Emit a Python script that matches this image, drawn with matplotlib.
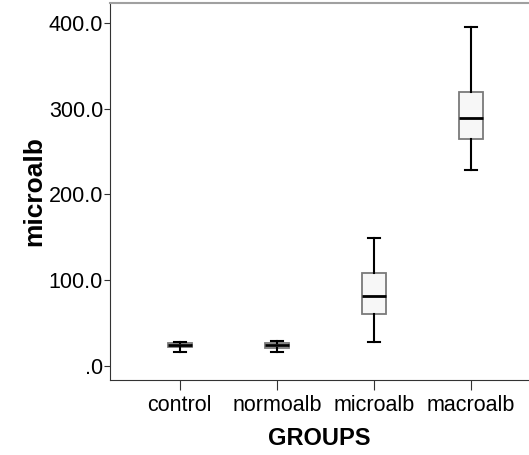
import matplotlib.pyplot as plt

groups = ['control', 'normoalb', 'microalb', 'macroalb']
whislo = [16, 16, 28, 229]
q1 = [22, 21, 61, 265]
med = [24, 24.5, 82, 289]
q3 = [27, 27, 108.5, 320]
whishi = [28, 29.5, 149, 395]

plt.rcParams['font.family'] = ['Liberation Sans', 'DejaVu Sans']

fig = plt.figure(figsize=(5.29, 4.55), dpi=100)
ax = fig.add_axes([0.208, 0.165, 0.792, 0.828])

stats = []
for i in range(len(groups)):
    stats.append({'label': groups[i], 'whislo': whislo[i], 'q1': q1[i],
                  'med': med[i], 'q3': q3[i], 'whishi': whishi[i],
                  'fliers': []})

ax.bxp(stats, positions=range(len(groups)), widths=0.25, patch_artist=True,
       showfliers=False,
       boxprops=dict(facecolor='#f7f7f7', edgecolor='#7a7a7a', linewidth=1.3),
       medianprops=dict(color='black', linewidth=2),
       whiskerprops=dict(color='black', linewidth=1.5),
       capprops=dict(color='black', linewidth=1.5),
       capwidths=0.12)

ax.set_xlim(-0.72, 3.6)
ax.set_ylim(-16.3, 423)
ax.set_yticks([0, 100, 200, 300, 400])
ax.set_yticklabels(['.0', '100.0', '200.0', '300.0', '400.0'])
ax.set_xticks(range(len(groups)))
ax.set_xticklabels(groups)
ax.tick_params(axis='both', labelsize=15.5, colors='#333333', labelcolor='black')
ax.tick_params(axis='x', length=7, pad=4)
ax.tick_params(axis='y', length=4, pad=1)

ax.spines['right'].set_visible(False)
ax.spines['top'].set_color('#a0a0a0')
ax.spines['top'].set_linewidth(1.5)
ax.spines['left'].set_color('#333333')
ax.spines['bottom'].set_color('#333333')

ax.set_xlabel('GROUPS', fontsize=17, fontweight='bold', labelpad=8)
ax.set_ylabel('microalb', fontsize=19, fontweight='bold', labelpad=2)

fig.savefig('out.png', dpi=100)
